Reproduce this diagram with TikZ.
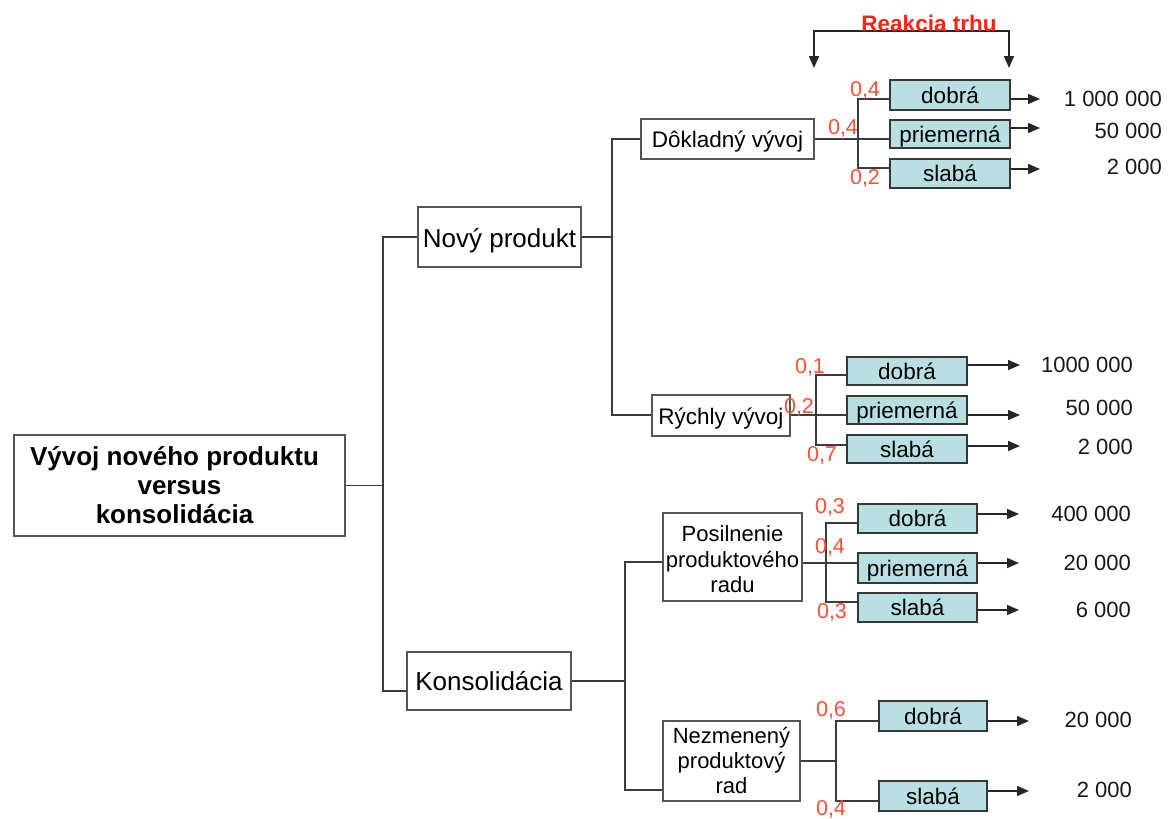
\documentclass[tikz,border=0pt]{standalone}
\usepackage{fontspec}
\setmainfont{Liberation Sans}
\usetikzlibrary{arrows.meta}
\definecolor{linegray}{RGB}{60,60,60}
\definecolor{boxborder}{RGB}{85,85,85}
\definecolor{oborder}{RGB}{55,55,55}
\definecolor{tealfill}{RGB}{184,224,227}
\definecolor{probred}{RGB}{255,80,55}
\definecolor{titlered}{RGB}{255,35,20}
\tikzset{
  wbox/.style={draw=boxborder, line width=1.6pt, fill=white, inner sep=0pt, align=center, text=black},
  obox/.style={draw=oborder, line width=1.8pt, fill=tealfill, inner sep=0pt, align=center, text=black,
    font=\fontsize{22.5}{25}\selectfont, text height=18pt, text depth=2pt, minimum height=29pt},
  conn/.style={draw=linegray, line width=1.5pt},
  arr/.style={draw=black!85, line width=1.5pt, -{Triangle[length=12pt,width=10pt]}},
  prob/.style={text=probred, inner sep=0pt, font=\fontsize{21.5}{24}\selectfont},
  val/.style={anchor=east, inner sep=0pt, text=black!90, font=\fontsize{22}{24}\selectfont},
}
\begin{document}
\begin{tikzpicture}[x=1pt,y=-1pt]
\useasboundingbox[fill=white] (0,0) rectangle (1171,819);

% main boxes
\node[wbox, minimum width=331pt, minimum height=101pt, font=\bfseries\fontsize{26}{29}\selectfont] (root) at (179.5,485.5) {Vývoj nového produktu\hspace*{10pt}\\versus\hspace*{10pt}\\konsolidácia\hspace*{10pt}};
\node[wbox, minimum width=163pt, minimum height=60pt, font=\fontsize{26}{28}\selectfont, text height=22pt, text depth=2pt] (np) at (499.5,237) {Nový produkt};
\node[wbox, minimum width=164pt, minimum height=58pt, font=\fontsize{26}{28}\selectfont, text height=20pt, text depth=2pt] (kons) at (489,681) {Konsolidácia};
\node[wbox, minimum width=173pt, minimum height=40pt, font=\fontsize{22.5}{25}\selectfont, text height=18pt, text depth=2pt] (dok) at (727.5,139) {Dôkladný vývoj};
\node[wbox, minimum width=138pt, minimum height=41pt, font=\fontsize{22.5}{25}\selectfont, text height=19pt, text depth=1pt] (ryc) at (721,415.5) {Rýchly vývoj};
\node[wbox, minimum width=139pt, minimum height=88pt, font=\fontsize{22}{25.5}\selectfont] (pos) at (732.5,557) {\rule{0pt}{21pt}Posilnenie\\produktového\\radu};
\node[wbox, minimum width=137pt, minimum height=80pt, font=\fontsize{22}{25}\selectfont] (nez) at (731.5,761) {Nezmenený\\produktový\\rad};

% outcome boxes group A
\node[obox, minimum width=120pt, minimum height=30pt] (dA) at (950,95) {dobrá};
\node[obox, minimum width=120pt, minimum height=28pt] (pA) at (950,134) {priemerná};
\node[obox, minimum width=120pt] (sA) at (950,173.5) {slabá};
% group B
\node[obox, minimum width=120pt, minimum height=28pt] (dB) at (907,371) {dobrá};
\node[obox, minimum width=120pt, minimum height=28pt] (pB) at (907,410) {priemerná};
\node[obox, minimum width=120pt, minimum height=28pt] (sB) at (907,449) {slabá};
% group C
\node[obox, minimum width=119pt] (dC) at (917.5,518.5) {dobrá};
\node[obox, minimum width=119pt, minimum height=30pt] (pC) at (917.5,568) {priemerná};
\node[obox, minimum width=119pt] (sC) at (917.5,607.5) {slabá};
% group D
\node[obox, minimum width=108pt, minimum height=30pt] (dD) at (933,716) {dobrá};
\node[obox, minimum width=108pt, minimum height=30pt] (sD) at (933,796) {slabá};

% junction coordinates
\coordinate (v1t) at (383,237);
\coordinate (v1b) at (383,691);
\coordinate (v2t) at (612,139);
\coordinate (v2b) at (612,415);
\coordinate (v3t) at (625,562);
\coordinate (v3b) at (625,790);
\coordinate (vAt) at (858,99);
\coordinate (vAb) at (858,168);
\coordinate (vBt) at (816,375);
\coordinate (vBb) at (816,445);
\coordinate (vCt) at (826,523);
\coordinate (vCb) at (826,602);
\coordinate (vDm) at (836,761);
\coordinate (vDt) at (836,721);
\coordinate (vDb) at (836,801);

% tree connectors
\draw[conn] (root.east) -- (root.east -| v1t);
\draw[conn] (np.west) -- (v1t) -- (v1b) -- (kons.west |- v1b);
\draw[conn] (np.east) -- (np.east -| v2t);
\draw[conn] (dok.west |- v2t) -- (v2t) -- (v2b) -- (ryc.west |- v2b);
\draw[conn] (kons.east) -- (kons.east -| v3t);
\draw[conn] (pos.west |- v3t) -- (v3t) -- (v3b) -- (nez.west |- v3b);

% group A
\draw[conn] (dok.east) -- (pA.west |- dok.east);
\draw[conn] (dA.west |- vAt) -- (vAt) -- (vAb) -- (sA.west |- vAb);
% group B
\draw[conn] (ryc.east |- v2b) -- (pB.west |- v2b);
\draw[conn] (dB.west |- vBt) -- (vBt) -- (vBb) -- (sB.west |- vBb);
% group C
\draw[conn] (pos.east |- 0,563) -- (pC.west |- 0,563);
\draw[conn] (dC.west |- vCt) -- (vCt) -- (vCb) -- (sC.west |- vCb);
% group D
\draw[conn] (nez.east |- vDm) -- (vDm);
\draw[conn] (dD.west |- vDt) -- (vDt) -- (vDb) -- (sD.west |- vDb);

% arrow end coordinates
\coordinate (eA1) at (1040,99);
\coordinate (eA2) at (1040,128);
\coordinate (eA3) at (1040,169);
\coordinate (eB1) at (1020,365);
\coordinate (eB2) at (1020,415);
\coordinate (eB3) at (1020,446);
\coordinate (eC1) at (1019,514);
\coordinate (eC2) at (1019,563);
\coordinate (eC3) at (1019,610);
\coordinate (eD1) at (1029,721);
\coordinate (eD2) at (1029,791);

\draw[arr] (dA.east |- eA1) -- (eA1);
\draw[arr] (pA.east |- eA2) -- (eA2);
\draw[arr] (sA.east |- eA3) -- (eA3);
\draw[arr] (dB.east |- eB1) -- (eB1);
\draw[arr] (pB.east |- eB2) -- (eB2);
\draw[arr] (sB.east |- eB3) -- (eB3);
\draw[arr] (dC.east |- eC1) -- (eC1);
\draw[arr] (pC.east |- eC2) -- (eC2);
\draw[arr] (sC.east |- eC3) -- (eC3);
\draw[arr] (dD.east |- eD1) -- (eD1);
\draw[arr] (sD.east |- eD2) -- (eD2);

% values
\node[val] (xA1) at (1162,99) {1 000 000};
\node[val] (xA2) at (1162,131) {50 000};
\node[val] (xA3) at (1162,167) {2 000};
\node[val] (xB1) at (1133,365) {1000 000};
\node[val] (xB2) at (1133,408) {50 000};
\node[val] (xB3) at (1133,447) {2 000};
\node[val] (xC1) at (1131,514) {400 000};
\node[val] (xC2) at (1131,563) {20 000};
\node[val] (xC3) at (1131,610) {6 000};
\node[val] (xD1) at (1132,720) {20 000};
\node[val] (xD2) at (1132,790) {2 000};

% probabilities
\node[prob] (qA1) at (865,90) {0,4};
\node[prob] (qA2) at (843,128) {0,4};
\node[prob] (qA3) at (865,178) {0,2};
\node[prob] (qB1) at (810,367) {0,1};
\node[prob] (qB2) at (799,407) {0,2};
\node[prob] (qB3) at (822,455) {0,7};
\node[prob] (qC1) at (830,507) {0,3};
\node[prob] (qC2) at (830,547) {0,4};
\node[prob] (qC3) at (832,612) {0,3};
\node[prob] (qD1) at (831,710) {0,6};
\node[prob] (qD2) at (831,809) {0,4};

% market reaction bracket
\coordinate (rl) at (814,68);
\coordinate (rr) at (1009,68);
\draw[draw=black!85, line width=1.5pt, {Triangle[length=12pt,width=10pt]}-{Triangle[length=12pt,width=10pt]}] (rl) -- (814,31) -- (1009,31) -- (rr);
\node[text=titlered, inner sep=0pt, font=\bfseries\fontsize{22.5}{24}\selectfont] (rt) at (929,23) {Reakcia trhu};
\end{tikzpicture}
\end{document}
